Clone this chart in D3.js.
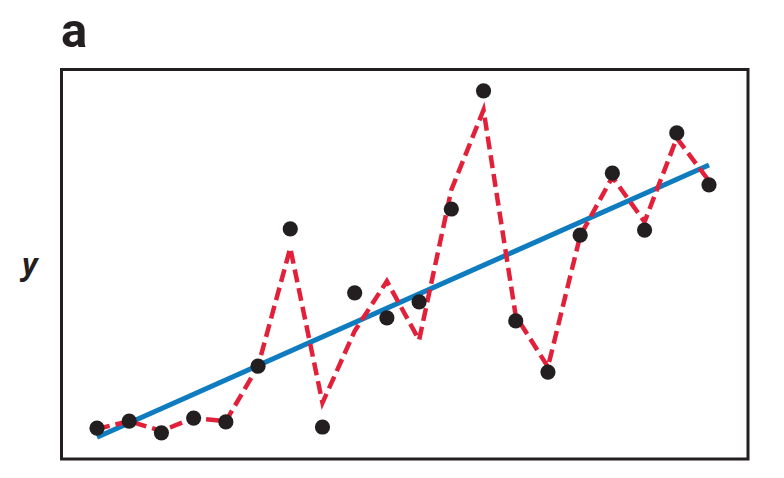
<!DOCTYPE html>
<html>
<head>
<meta charset="utf-8">
<script src="https://cdn.jsdelivr.net/npm/d3@7"></script>
<style>
  html, body { margin: 0; padding: 0; background: #fff; }
  svg { display: block; }
</style>
</head>
<body>
<svg id="chart" width="784" height="478"></svg>
<script>
// x positions (observation index)
const xIndex = [1,2,3,4,5,6,7,8,9,10,11,12,13,14,15,16,17,18,19,20];
// observed data points (black dots)
const observed = [7.9, 9.7, 6.7, 10.5, 9.5, 23.8, 59.0, 8.2, 42.6, 36.2, 40.3, 64.1, 94.4, 35.4, 22.3, 57.4, 73.3, 58.7, 83.6, 70.3];
// overfit model (red dashed line)
const overfit = [7.7, 9.7, 7.2, 10.5, 9.7, 23.8, 54.1, 14.4, 32.8, 45.6, 30.5, 69.0, 89.5, 36.7, 23.6, 57.2, 72.3, 60.8, 82.3, 71.3];
// linear fit (blue line) endpoints
const fitX = [1, 20];
const fitY = [5.6, 75.4];
const panelLabel = "a";
const yLabel = "y";

const svg = d3.select("#chart");
const box = {left: 61.5, right: 748, top: 69.5, bottom: 459};

const x = d3.scaleLinear().domain([1, 20]).range([97, 709]);
const y = d3.scaleLinear().domain([0, 100]).range([459, 69]);

// blue fit line
svg.append("path")
  .datum(fitX.map((d, i) => [d, fitY[i]]))
  .attr("fill", "none")
  .attr("stroke", "#0f7cc0")
  .attr("stroke-width", 5)
  .attr("d", d3.line().x(d => x(d[0])).y(d => y(d[1])));

// red dashed overfit line
svg.append("path")
  .datum(xIndex.map((d, i) => [d, overfit[i]]))
  .attr("fill", "none")
  .attr("stroke", "#e3203a")
  .attr("stroke-width", 4.5)
  .attr("stroke-dasharray", "13,6")
  .attr("stroke-linejoin", "miter")
  .attr("d", d3.line().x(d => x(d[0])).y(d => y(d[1])));

// dots
svg.append("g").selectAll("circle")
  .data(xIndex.map((d, i) => [d, observed[i]]))
  .join("circle")
  .attr("cx", d => x(d[0]))
  .attr("cy", d => y(d[1]))
  .attr("r", 7.6)
  .attr("fill", "#231f20");

// frame
svg.append("rect")
  .attr("x", box.left).attr("y", box.top)
  .attr("width", box.right - box.left).attr("height", box.bottom - box.top)
  .attr("fill", "none")
  .attr("stroke", "#231f20")
  .attr("stroke-width", 3);

// panel label
svg.append("text")
  .attr("x", 61).attr("y", 47)
  .attr("font-family", "Roboto, sans-serif")
  .attr("font-weight", 700)
  .attr("font-size", 49)
  .attr("fill", "#231f20")
  .text(panelLabel);

// y label
svg.append("text")
  .attr("x", 22).attr("y", 275)
  .attr("font-family", "'Open Sans', sans-serif")
  .attr("font-weight", 700)
  .attr("font-style", "italic")
  .attr("font-size", 30)
  .attr("fill", "#231f20")
  .text(yLabel);
</script>
</body>
</html>
